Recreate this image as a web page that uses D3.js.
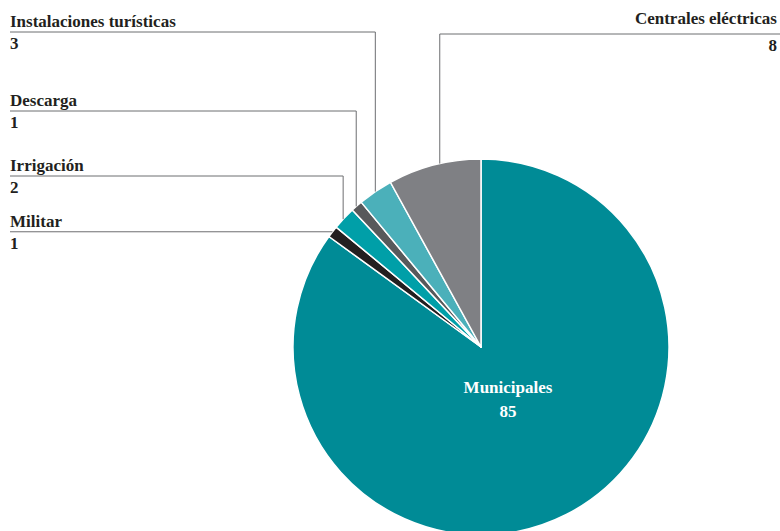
<!DOCTYPE html>
<html>
<head>
<meta charset="utf-8">
<script src="https://cdn.jsdelivr.net/npm/d3@7"></script>
<style>
  body { margin: 0; background: #fff; }
  text { font-family: "Liberation Serif", "DejaVu Serif", serif; font-weight: bold; }
</style>
</head>
<body>
<svg id="chart" width="780" height="531"></svg>
<script>
let categories = ["Municipales", "Militar", "Irrigación", "Descarga", "Instalaciones turísticas", "Centrales eléctricas"],
    values = [85, 1, 2, 1, 3, 8],
    colors = ["#008b96", "#231f20", "#009fa8", "#58595b", "#4bb0ba", "#7f8084"];

let svg = d3.select("#chart"),
    cx = 481, cy = 347, r = 188;

let pie = d3.pie().sort(null).value(function(d) { return d.v; });
let arcs = pie(categories.map(function(c, i) { return { name: c, v: values[i], color: colors[i] }; }));

let arc = d3.arc().innerRadius(0).outerRadius(r);

let g = svg.append("g").attr("transform", "translate(" + cx + "," + cy + ")");

g.selectAll("path")
  .data(arcs)
  .enter().append("path")
    .attr("d", arc)
    .attr("fill", function(d) { return d.data.color; })
    .attr("stroke", "#fff")
    .attr("stroke-width", 1.5)
    .attr("stroke-linejoin", "round");

// label layout: y of underline, and where along the slice the leader hits
let layout = {
  "Militar": { side: "left", ly: 231, horiz: true, f: 0.5 },
  "Irrigación": { side: "left", ly: 176, f: 0.45 },
  "Descarga": { side: "left", ly: 111, f: 0.45 },
  "Instalaciones turísticas": { side: "left", ly: 32, f: 0.5 },
  "Centrales eléctricas": { side: "right", ly: 34, f: 0.56 }
};

let lineColor = "#6d6e71",
    fs = 17;

arcs.forEach(function(d) {
  let L = layout[d.data.name];
  if (!L) return;
  let a = d.startAngle + L.f * (d.endAngle - d.startAngle);
  let px = cx + r * Math.sin(a), py = cy - r * Math.cos(a);
  let pts;
  if (L.horiz) {
    pts = [[10, py], [px, py]];
  } else if (L.side === "left") {
    pts = [[10, L.ly], [px, L.ly], [px, py]];
  } else {
    pts = [[780, L.ly], [px, L.ly], [px, py]];
  }
  svg.append("path")
    .attr("d", d3.line()(pts))
    .attr("fill", "none")
    .attr("stroke", lineColor)
    .attr("stroke-width", 1);

  let ty = L.horiz ? py : L.ly;
  let tx = L.side === "left" ? 10 : 777;
  let anchor = L.side === "left" ? "start" : "end";
  let gap = L.side === "left" ? 5 : 10;
  svg.append("text")
    .attr("x", tx).attr("y", ty - gap)
    .attr("text-anchor", anchor)
    .attr("font-size", fs)
    .attr("fill", "#231f20")
    .text(d.data.name);
  svg.append("text")
    .attr("x", tx).attr("y", ty + 17)
    .attr("text-anchor", anchor)
    .attr("font-size", fs)
    .attr("fill", "#231f20")
    .text(d.data.v);
});

// big slice label
let big = arcs[0];
svg.append("text")
  .attr("x", 508).attr("y", 393)
  .attr("text-anchor", "middle")
  .attr("font-size", fs)
  .attr("fill", "#fff")
  .text(big.data.name);
svg.append("text")
  .attr("x", 508).attr("y", 417)
  .attr("text-anchor", "middle")
  .attr("font-size", fs)
  .attr("fill", "#fff")
  .text(big.data.v);
</script>
</body>
</html>
